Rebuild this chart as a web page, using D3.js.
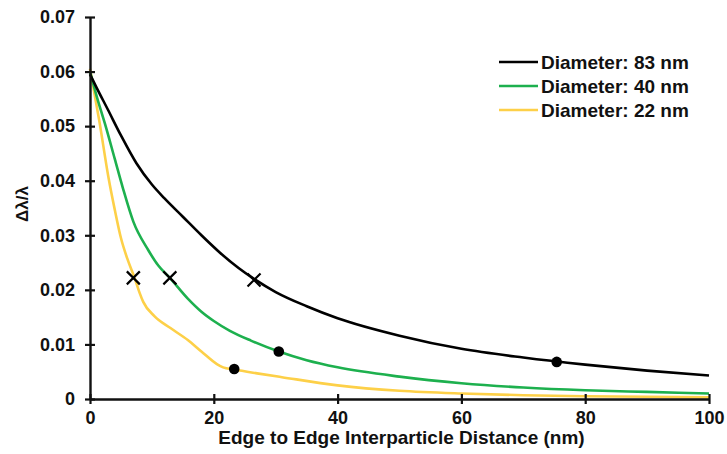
<!DOCTYPE html>
<html>
<head>
<meta charset="utf-8">
<script src="https://cdn.jsdelivr.net/npm/d3@7/dist/d3.min.js"></script>
<style>
  html, body { margin: 0; padding: 0; background: #fff; }
  svg text { font-family: "Liberation Sans", Arial, Helvetica, sans-serif; font-weight: bold; fill: #111; }
</style>
</head>
<body>
<svg id="chart" width="727" height="454"></svg>
<script>
// Sampled plasmon shift curves: distance (nm) and relative shift
const dist83 = [0, 1, 2.9, 5, 7.5, 10, 12, 15, 18, 21, 24, 26.5, 30, 35, 40, 50, 60, 70, 80, 90, 100];
const shift83 = [0.0595, 0.0572, 0.0530, 0.0483, 0.0432, 0.0393, 0.0368, 0.0334, 0.0300, 0.0268, 0.0240, 0.0220, 0.0196, 0.0170, 0.0148, 0.0116, 0.0092, 0.0076, 0.0063, 0.0052, 0.0043];

const dist40 = [0, 1.2, 2.4, 4, 5.3, 7, 9.4, 11, 12.9, 15.8, 18, 20, 22.6, 26, 30.5, 35, 40, 50, 60, 70, 80, 90, 100];
const shift40 = [0.0600, 0.0550, 0.0505, 0.0440, 0.0387, 0.0325, 0.0273, 0.0245, 0.0222, 0.0184, 0.0160, 0.0143, 0.0125, 0.0107, 0.0087, 0.0071, 0.0058, 0.0041, 0.0029, 0.0021, 0.0016, 0.0013, 0.0010];

const dist22 = [0, 1.5, 3, 4, 5, 6, 7.2, 8, 8.6, 10.4, 13, 15.8, 18, 20.5, 21.5, 23.3, 27, 31, 40, 50, 60, 70, 80, 90, 100];
const shift22 = [0.0605, 0.0510, 0.0405, 0.0347, 0.0295, 0.0258, 0.0222, 0.0195, 0.0178, 0.0152, 0.0130, 0.0108, 0.0087, 0.0064, 0.0058, 0.0054, 0.0047, 0.0040, 0.0025, 0.0015, 0.0010, 0.0007, 0.0005, 0.0004, 0.0003];

// Marked positions on the curves
const crossX = [7.0, 12.9, 26.5];
const crossY = [0.0222, 0.0222, 0.0218];
const dotX = [23.3, 30.5, 75.4];
const dotY = [0.0055, 0.0087, 0.0068];

const seriesNames = ["Diameter: 83 nm", "Diameter: 40 nm", "Diameter: 22 nm"];
const seriesColors = ["#000000", "#1db04e", "#fdd048"];

const xTicks = [0, 20, 40, 60, 80, 100];
const yTicks = [0, 0.01, 0.02, 0.03, 0.04, 0.05, 0.06, 0.07];

const svg = d3.select("#chart");
const x = d3.scaleLinear().domain([0, 100]).range([90, 709]);
const y = d3.scaleLinear().domain([0, 0.07]).range([399, 17]);

const series = [
  { name: seriesNames[0], color: seriesColors[0], xs: dist83, ys: shift83 },
  { name: seriesNames[1], color: seriesColors[1], xs: dist40, ys: shift40 },
  { name: seriesNames[2], color: seriesColors[2], xs: dist22, ys: shift22 }
];

const line = d3.line()
  .x(d => x(d[0]))
  .y(d => y(d[1]))
  .curve(d3.curveMonotoneX);

// Curves, yellow drawn first so black sits on top
series.slice().reverse().forEach(s => {
  svg.append("path")
    .datum(s.xs.map((v, i) => [v, s.ys[i]]))
    .attr("fill", "none")
    .attr("stroke", s.color)
    .attr("stroke-width", 2.6)
    .attr("stroke-linejoin", "round")
    .attr("d", line);
});

// Axes with ticks crossing the axis line
const yAxis = d3.axisLeft(y).tickValues(yTicks).tickFormat(d => d === 0 ? "0" : d3.format(".2f")(d))
  .tickSizeInner(5).tickSizeOuter(0).tickPadding(10);
const gy = svg.append("g").attr("transform", `translate(${x(0)},0)`).call(yAxis);

const xAxis = d3.axisBottom(x).tickValues(xTicks).tickSizeInner(5).tickSizeOuter(0).tickPadding(4);
const gx = svg.append("g").attr("transform", `translate(0,${y(0)})`).call(xAxis);

[gy, gx].forEach(g => {
  g.select(".domain").attr("stroke", "#111").attr("stroke-width", 2.4);
  g.selectAll(".tick line").attr("stroke", "#111").attr("stroke-width", 2.2);
  g.selectAll(".tick text").style("font-size", "18px").attr("fill", "#111");
});
gy.selectAll(".tick line").attr("x1", 5).attr("x2", -5);
gx.selectAll(".tick line").attr("y1", -5).attr("y2", 5);
gx.selectAll(".tick text").attr("dy", "0.9em");

// Axis titles
svg.append("text")
  .attr("x", (x(0) + x(100)) / 2 + 2)
  .attr("y", 444)
  .attr("text-anchor", "middle")
  .style("font-size", "19px")
  .text("Edge to Edge Interparticle Distance (nm)");

svg.append("text")
  .attr("transform", `translate(28,204) rotate(-90)`)
  .attr("text-anchor", "middle")
  .style("font-size", "17px")
  .text("Δλ/λ");

// Cross markers
const arm = 6.5;
crossX.forEach((cx, i) => {
  const px = x(cx), py = y(crossY[i]);
  svg.append("path")
    .attr("d", `M${px - arm},${py - arm}L${px + arm},${py + arm}M${px - arm},${py + arm}L${px + arm},${py - arm}`)
    .attr("stroke", "#000")
    .attr("stroke-width", 2.2)
    .attr("fill", "none");
});

// Dot markers
svg.selectAll("circle.dot")
  .data(dotX.map((v, i) => [v, dotY[i]]))
  .join("circle")
  .attr("class", "dot")
  .attr("cx", d => x(d[0]))
  .attr("cy", d => y(d[1]))
  .attr("r", 5.3)
  .attr("fill", "#000");

// Legend
const legend = svg.append("g");
series.forEach((s, i) => {
  const ly = 62 + i * 24;
  legend.append("line")
    .attr("x1", 499).attr("x2", 538)
    .attr("y1", ly).attr("y2", ly)
    .attr("stroke", s.color)
    .attr("stroke-width", 2.6);
  legend.append("text")
    .attr("x", 541)
    .attr("y", ly)
    .attr("dy", "0.35em")
    .style("font-size", "19px")
    .text(s.name);
});
</script>
</body>
</html>
